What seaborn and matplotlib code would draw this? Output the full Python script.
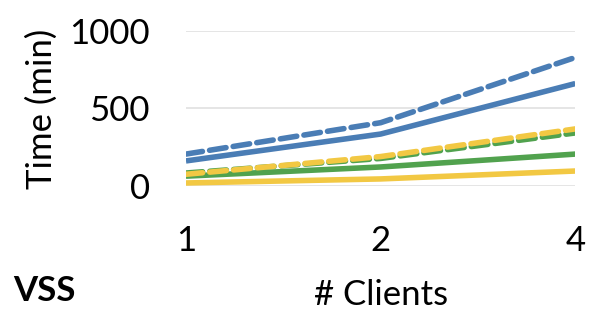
import pandas as pd
import matplotlib
matplotlib.use("Agg")
import matplotlib.pyplot as plt
import seaborn as sns

clients = ["1", "2", "4"]
blue_solid = [162, 335, 660]
blue_dashed = [206, 408, 828]
green_solid = [64, 123, 206]
green_dashed = [84, 178, 342]
yellow_solid = [20, 46, 97]
yellow_dashed = [76, 190, 368]

series = [
    ("blue_solid", blue_solid, "#4a7db5", "-"),
    ("blue_dashed", blue_dashed, "#4a7db5", "--"),
    ("green_solid", green_solid, "#51a24e", "-"),
    ("green_dashed", green_dashed, "#51a24e", "--"),
    ("yellow_solid", yellow_solid, "#f2c843", "-"),
    ("yellow_dashed", yellow_dashed, "#f2c843", "--"),
]

sns.set_style("white")
plt.rcParams['font.family'] = ['Lato', 'DejaVu Sans']
plt.rcParams['text.color'] = 'black'
plt.rcParams['axes.labelcolor'] = 'black'

fig = plt.figure(figsize=(5.98, 3.17), dpi=100)
ax = fig.add_axes([0.311, 0.413, 0.651, 0.49])

for name, vals, color, style in series:
    df = pd.DataFrame({"clients": clients, "time": vals})
    sns.lineplot(data=df, x="clients", y="time", ax=ax, color=color,
                 linewidth=4.0, sort=False)
    l = ax.lines[-1]
    if style == "--":
        l.set_dashes((3.0, 1.3))
    l.set_solid_capstyle("butt")
    l.set_dash_capstyle("round")

ax.set_xlim(0, 2)
ax.set_ylim(0, 1000)
ax.set_yticks([0, 500, 1000])
ax.yaxis.grid(True, color="#e0e0e0", linewidth=1.2)
ax.xaxis.grid(False)
for s in ax.spines.values():
    s.set_visible(False)
ax.tick_params(axis="both", length=0, labelsize=25, colors="black")
ax.tick_params(axis="x", pad=28)
ax.tick_params(axis="y", pad=26)
ax.set_xlabel("# Clients", fontsize=25, labelpad=16, color="black")
ax.set_ylabel("Time (min)", fontsize=25, labelpad=8, color="black")
fig.text(0.022, 0.05, "VSS", fontsize=25, fontweight="bold", color="black")

plt.savefig("out.png", dpi=100)
plt.close()
